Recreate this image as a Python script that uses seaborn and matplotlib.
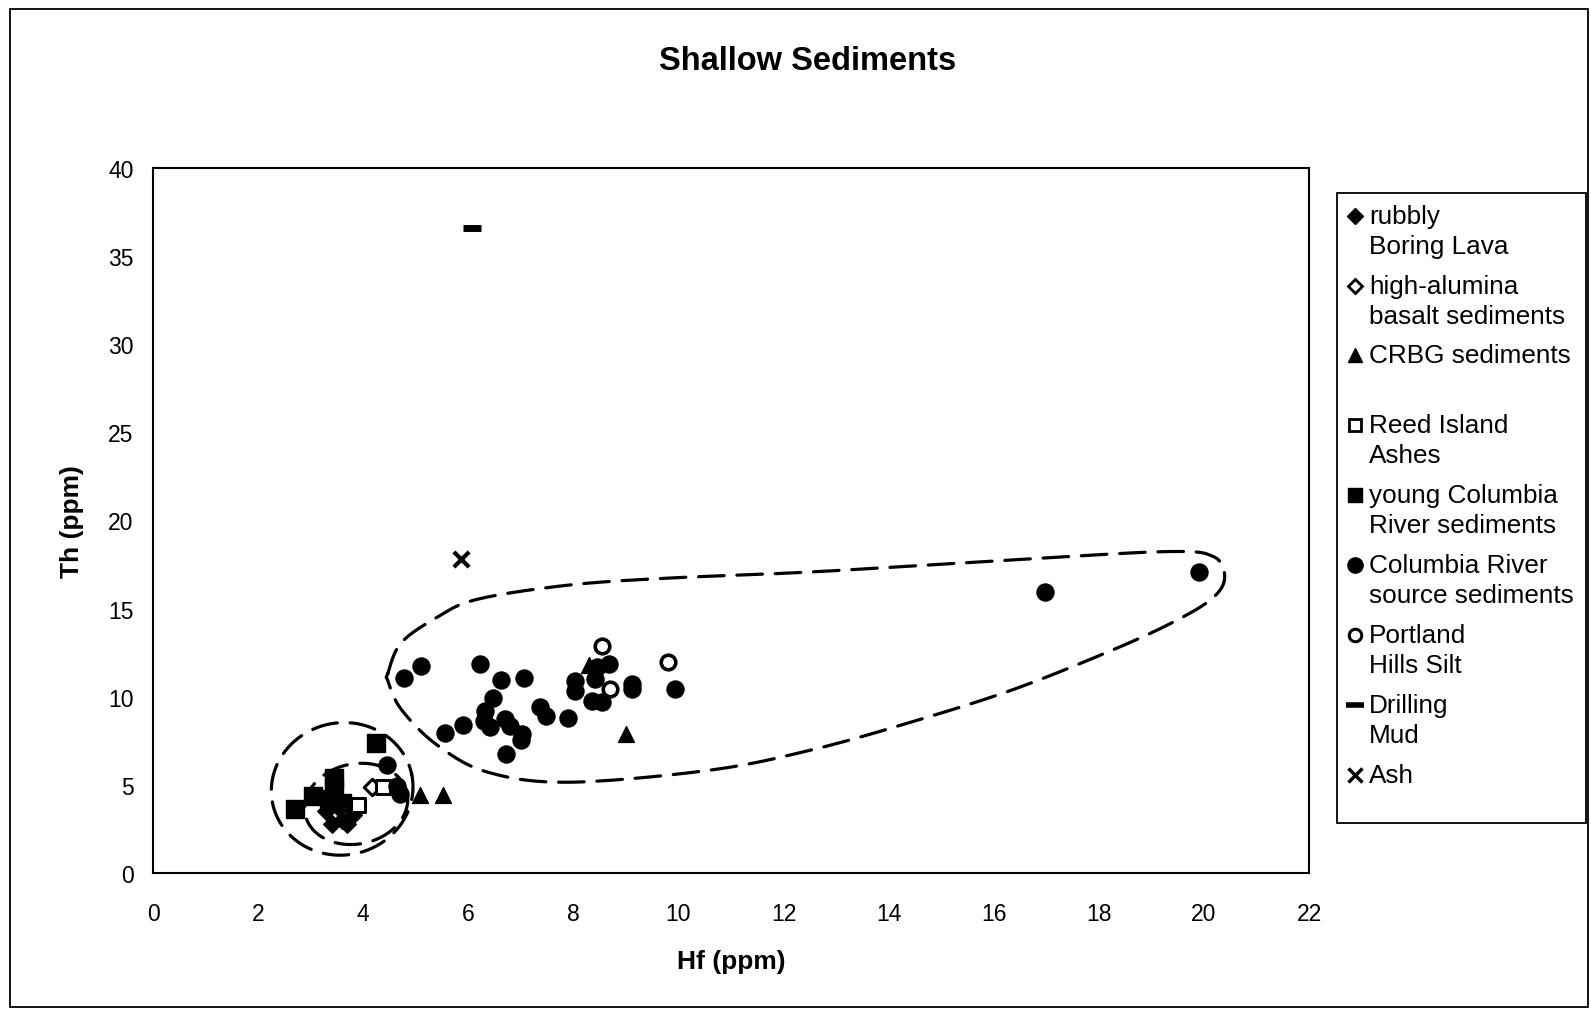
import numpy as np
import pandas as pd
import matplotlib
matplotlib.use("Agg")
import matplotlib.pyplot as plt
import seaborn as sns
from matplotlib.lines import Line2D
from matplotlib.patches import Rectangle

sns.set_theme(style="white")
plt.rcParams['font.family'] = ['Liberation Sans', 'DejaVu Sans']
plt.rcParams['text.color'] = 'black'
plt.rcParams['axes.labelcolor'] = 'black'
plt.rcParams['xtick.color'] = 'black'
plt.rcParams['ytick.color'] = 'black'

# ---------------- data (Hf ppm, Th ppm) ----------------
rubbly_hf = [3.30, 3.40, 3.60, 3.70, 3.80, 3.50]
rubbly_th = [3.50, 2.80, 3.00, 2.80, 3.30, 3.80]

hialum_hf = [4.17, 3.40]
hialum_th = [4.90, 4.10]

crbg_hf = [5.09, 5.52, 8.30, 9.00]
crbg_th = [4.40, 4.40, 11.80, 7.90]

reed_hf = [3.90, 4.38]
reed_th = [3.88, 4.90]

young_hf = [2.70, 3.05, 3.45, 3.45, 3.35, 4.25, 3.60]
young_th = [3.65, 4.35, 5.40, 4.85, 4.20, 7.40, 4.00]

crs_hf = [4.78, 5.10, 6.23, 6.63, 7.07, 6.48, 6.32, 6.29, 6.42, 6.70, 6.80, 7.03,
          7.00, 6.72, 5.56, 5.90, 7.37, 7.47, 8.67, 8.45, 8.04, 8.04, 8.42, 8.36,
          8.55, 9.12, 9.12, 9.94, 7.90, 16.97, 19.90, 4.45, 4.65, 4.70]
crs_th = [11.08, 11.76, 11.88, 10.97, 11.08, 9.94, 9.20, 8.60, 8.30, 8.75, 8.35, 7.90,
          7.55, 6.76, 7.95, 8.40, 9.43, 8.92, 11.88, 11.70, 10.90, 10.34, 11.00, 9.75,
          9.70, 10.74, 10.45, 10.45, 8.81, 15.96, 17.10, 6.15, 4.95, 4.50]

phs_hf = [8.55, 8.70, 9.81]
phs_th = [12.90, 10.45, 11.99]

mud_hf = [6.08]
mud_th = [36.60]

ash_hf = [5.87]
ash_th = [17.80]

x_ticks = list(range(0, 23, 2))
y_ticks = list(range(0, 41, 5))

# ---------------- figure ----------------
W, H = 1591, 1012
fig = plt.figure(figsize=(W / 100, H / 100), dpi=100)
fig.patch.set_facecolor("white")

def fx(X):
    return X / W

def fy(Y):
    return 1 - Y / H

ax = fig.add_axes([fx(153), fy(874), fx(1309) - fx(153), fy(169) - fy(874)])
ax.set_facecolor("white")

groups = [
    (rubbly_hf, rubbly_th, dict(marker="D", s=80, color="black", edgecolor="black", linewidth=1)),
    (hialum_hf, hialum_th, dict(marker="D", s=70, facecolor="white", edgecolor="black", linewidth=2.2)),
    (crbg_hf, crbg_th, dict(marker="^", s=130, color="black", edgecolor="black", linewidth=1)),
    (reed_hf, reed_th, dict(marker="s", s=110, facecolor="white", edgecolor="black", linewidth=2.2)),
    (young_hf, young_th, dict(marker="s", s=150, color="black", edgecolor="black", linewidth=1)),
    (crs_hf, crs_th, dict(marker="o", s=150, color="black", edgecolor="black", linewidth=1)),
    (phs_hf, phs_th, dict(marker="o", s=110, facecolor="white", edgecolor="black", linewidth=2.6)),
    (mud_hf, mud_th, dict(marker="_", s=170, color="black", linewidth=5)),
    (ash_hf, ash_th, dict(marker="x", s=120, color="black", linewidth=3)),
]
for hf, th, kw in groups:
    df = pd.DataFrame({"Hf": hf, "Th": th})
    sns.scatterplot(data=df, x="Hf", y="Th", ax=ax, legend=False, zorder=3, **kw)

# ---------------- dashed outlines ----------------
PXX = 52.5   # pixels per Hf unit
PXY = 17.6   # pixels per Th unit

def px2data(X, Y):
    return (np.asarray(X) - 153) / PXX, (874 - np.asarray(Y)) / PXY

def ellipse_px(cx, cy, a, b, ang):
    t = np.linspace(0, 2 * np.pi, 200)
    r = np.deg2rad(ang)
    x = a * np.cos(t)
    y = b * np.sin(t)
    X = cx + x * np.cos(r) - y * np.sin(r)
    Y = cy + x * np.sin(r) + y * np.cos(r)
    return X, Y

dash = dict(color="black", lw=2.3, linestyle=(0, (8, 4)), zorder=2,
            dash_capstyle="round")

X, Y = ellipse_px(342, 790, 71, 66, -12)
ax.plot(*px2data(X, Y), **dash)
X, Y = ellipse_px(356, 805, 52, 40, -12)
ax.plot(*px2data(X, Y), **dash)

# teardrop outline control points (shown-image pixels)
ctrl = np.array([
    (382, 665), (395, 635), (430, 610), (470, 592), (560, 578), (660, 571),
    (800, 565), (1000, 553), (1150, 545), (1195, 550), (1206, 570), (1195, 590),
    (1160, 612), (1100, 640), (1000, 680), (900, 712), (800, 740), (700, 760),
    (560, 772), (480, 762), (430, 735), (395, 700), (382, 672)], dtype=float)
ctrl = ctrl / 0.9855

def catmull_closed(P, n=25):
    out = []
    m = len(P)
    for i in range(m):
        p0, p1, p2, p3 = P[i - 1], P[i], P[(i + 1) % m], P[(i + 2) % m]
        for t in np.linspace(0, 1, n, endpoint=False):
            t2, t3 = t * t, t * t * t
            pt = 0.5 * ((2 * p1) + (-p0 + p2) * t + (2 * p0 - 5 * p1 + 4 * p2 - p3) * t2
                        + (-p0 + 3 * p1 - 3 * p2 + p3) * t3)
            out.append(pt)
    out.append(out[0])
    return np.array(out)

curve = catmull_closed(ctrl)
ax.plot(*px2data(curve[:, 0], curve[:, 1]), **dash)

# ---------------- axes styling ----------------
ax.set_xlim(0, 22)
ax.set_ylim(0, 40)
ax.set_xticks(x_ticks)
ax.set_yticks(y_ticks)
ax.tick_params(axis="both", labelsize=16.5, direction="in", length=5, width=1.2,
               colors="black")
ax.tick_params(axis="x", pad=21)
ax.tick_params(axis="y", pad=14)
for sp in ax.spines.values():
    sp.set_color("black")
    sp.set_linewidth(1.5)
ax.grid(False)
ax.set_xlabel("Hf (ppm)", fontsize=19, fontweight="bold", labelpad=17)
ax.set_ylabel("Th (ppm)", fontsize=19, fontweight="bold", labelpad=17)

fig.text(fx(808), fy(61), "Shallow Sediments", fontsize=23.5, fontweight="bold",
         ha="center", va="center")

# ---------------- legend (manual) ----------------
fig.add_artist(Rectangle((fx(1337), fy(824)), fx(1586) - fx(1337), fy(194) - fy(824),
                         transform=fig.transFigure, fill=False, edgecolor="black", lw=1.3))
leg_items = [
    (("rubbly", "Boring Lava"), dict(marker="D", ms=8, mfc="black", mec="black")),
    (("high-alumina", "basalt sediments"), dict(marker="D", ms=7, mfc="white", mec="black", mew=2)),
    (("CRBG sediments",), dict(marker="^", ms=10, mfc="black", mec="black")),
    (("Reed Island", "Ashes"), dict(marker="s", ms=9, mfc="white", mec="black", mew=2)),
    (("young Columbia", "River sediments"), dict(marker="s", ms=10, mfc="black", mec="black")),
    (("Columbia River", "source sediments"), dict(marker="o", ms=11, mfc="black", mec="black")),
    (("Portland", "Hills Silt"), dict(marker="o", ms=9, mfc="white", mec="black", mew=2.2)),
    (("Drilling", "Mud"), dict(marker="_", ms=13, mec="black", mew=4)),
    (("Ash",), dict(marker="x", ms=10, mec="black", mew=2.5)),
]
y0s = [217, 287, 356, 426, 496, 566, 636, 706, 776]
for (lines, mk), y0 in zip(leg_items, y0s):
    fig.add_artist(Line2D([fx(1355)], [fy(y0)], transform=fig.transFigure,
                          linestyle="none", **mk))
    for k, txt in enumerate(lines):
        fig.text(fx(1369), fy(y0 + k * 30), txt, fontsize=18.8, ha="left", va="center")

# outer frame
fig.add_artist(Rectangle((fx(10), fy(1008)), fx(1588) - fx(10), fy(10) - fy(1008),
                         transform=fig.transFigure, fill=False, edgecolor="black", lw=1.3))

fig.savefig("out.png", dpi=100, facecolor="white")
